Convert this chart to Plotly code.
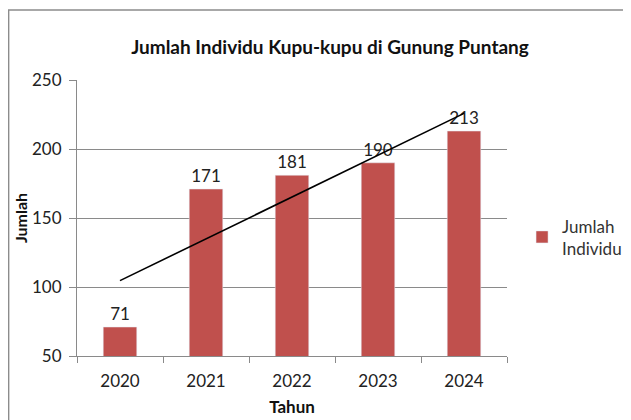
import numpy as np
import plotly.graph_objects as go

years = ["2020", "2021", "2022", "2023", "2024"]
jumlah = [71, 171, 181, 190, 213]

FONT = "Lato, 'Open Sans', sans-serif"
BAR_RED = "#C0504D"
GRID = "#8a8a8a"

# the page body adds an 8px offset, so margins are shifted to compensate
L, T, PW, PH = 69, 72, 434, 276

# linear trend over the categories
idx = np.arange(len(years))
slope, icpt = np.polyfit(idx, jumlah, 1)
trend_y = [icpt, icpt + slope * idx[-1]]

fig = go.Figure()

fig.add_trace(go.Bar(
    x=years, y=jumlah,
    name="Jumlah<br>Individu",
    marker_color=BAR_RED,
    width=0.39,
    text=jumlah,
    textposition="outside",
    textfont=dict(size=17, color="#222"),
    cliponaxis=False,
))

fig.add_trace(go.Scatter(
    x=[years[0], years[-1]], y=trend_y,
    mode="lines",
    line=dict(color="black", width=1.6),
    showlegend=False,
    hoverinfo="skip",
))

fig.update_layout(
    width=631, height=420,
    margin=dict(l=L, r=631 - L - PW, t=T, b=420 - T - PH),
    paper_bgcolor="white",
    plot_bgcolor="white",
    font=dict(family=FONT, size=17, color="#222"),
    title=dict(
        text="<b>Jumlah Individu Kupu-kupu di Gunung Puntang</b>",
        x=(330 - 8) / 631, xanchor="center",
        y=1 - 39 / 420, yanchor="middle",
        font=dict(size=19, color="#111"),
    ),
    legend=dict(
        x=1.035, y=0.43, xanchor="left", yanchor="middle",
        font=dict(size=17, color="#333"),
        bgcolor="rgba(0,0,0,0)",
        itemwidth=30,
    ),
    bargap=0.6,
    shapes=[dict(
        type="rect", xref="paper", yref="paper",
        x0=(0 - L) / PW, x1=1.4,
        y0=-0.35, y1=(PH + T - 2) / PH,
        line=dict(color="#8c8c8c", width=1.5),
        layer="below",
    )],
)

fig.update_xaxes(
    type="category",
    showline=True, linecolor=GRID, linewidth=1,
    ticks="outside", tickson="boundaries", ticklen=6, tickcolor=GRID,
    ticklabelstandoff=10,
    showgrid=False,
    tickfont=dict(size=17, color="#222"),
    title=dict(text="<b>Tahun</b>", font=dict(size=17, color="#111"), standoff=10),
)

fig.update_yaxes(
    range=[50, 250], dtick=50, tick0=50,
    showline=True, linecolor=GRID, linewidth=1,
    ticks="outside", ticklen=7, tickcolor=GRID,
    ticklabelstandoff=4,
    showgrid=True, gridcolor=GRID, gridwidth=1,
    zeroline=False,
    tickfont=dict(size=17, color="#222"),
    title=dict(text="<b>Jumlah</b>", font=dict(size=16, color="#111"), standoff=0),
)

fig.write_html("out.html")
